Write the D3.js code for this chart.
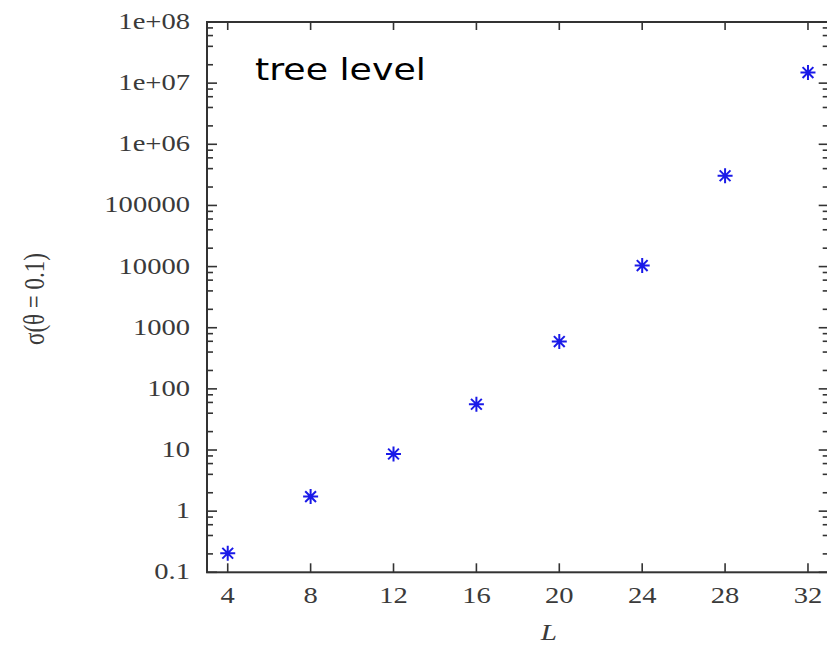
<!DOCTYPE html>
<html>
<head>
<meta charset="utf-8">
<script src="https://cdn.jsdelivr.net/npm/d3@7"></script>
<style>
  html, body { margin: 0; padding: 0; background: #fff; }
  svg { display: block; }
</style>
</head>
<body>
<svg id="chart" width="827" height="645"></svg>
<script>
// ---- data ----
const L = [4, 8, 12, 16, 20, 24, 28, 32];
const sigma = [0.205, 1.73, 8.6, 56, 594, 10400, 306000, 1.49e7];
const xTicks = [4, 8, 12, 16, 20, 24, 28, 32];
const yTicks = [0.1, 1, 10, 100, 1000, 10000, 100000, 1e6, 1e7, 1e8];
const yTickLabels = ["0.1", "1", "10", "100", "1000", "10000", "100000", "1e+06", "1e+07", "1e+08"];
const minorMultipliers = [2, 4, 6, 8];
const annotation = "tree level";
const xTitle = "L";
const yTitle = "σ(θ = 0.1)";

(function () {
const svg = d3.select("#chart");
const pLeft = 207, pRight = 828.7, pTop = 22, pBottom = 572.3;

const x = d3.scaleLinear().domain([3, 33]).range([pLeft, pRight]);
const y = d3.scaleLog().domain([0.1, 1e8]).range([pBottom, pTop]);

const axisColor = "#333";
const labelColor = "#3a3a3a";
const stretch = 1.27;

// frame
svg.append("rect")
  .attr("x", pLeft).attr("y", pTop)
  .attr("width", pRight - pLeft).attr("height", pBottom - pTop)
  .attr("fill", "none").attr("stroke", axisColor).attr("stroke-width", 2);

// minor y ticks
const minorVals = [];
yTicks.slice(0, -1).forEach(d => minorMultipliers.forEach(m => minorVals.push(d * m)));

const tickG = svg.append("g").attr("stroke", axisColor).attr("stroke-width", 1.6);
minorVals.forEach(v => {
  tickG.append("line").attr("x1", pLeft).attr("x2", pLeft + 6).attr("y1", y(v)).attr("y2", y(v));
  tickG.append("line").attr("x1", pRight).attr("x2", pRight - 6).attr("y1", y(v)).attr("y2", y(v));
});
yTicks.forEach(v => {
  tickG.append("line").attr("x1", pLeft).attr("x2", pLeft + 10).attr("y1", y(v)).attr("y2", y(v));
  tickG.append("line").attr("x1", pRight).attr("x2", pRight - 10).attr("y1", y(v)).attr("y2", y(v));
});
xTicks.forEach(v => {
  tickG.append("line").attr("x1", x(v)).attr("x2", x(v)).attr("y1", pBottom).attr("y2", pBottom - 9);
  tickG.append("line").attr("x1", x(v)).attr("x2", x(v)).attr("y1", pTop).attr("y2", pTop + 8);
});

// y tick labels
yTicks.forEach((v, i) => {
  svg.append("g").attr("transform", `translate(190,${y(v) + 7}) scale(${stretch},1)`)
    .append("text")
    .attr("text-anchor", "end")
    .attr("font-family", "Liberation Serif")
    .attr("font-size", 22.5)
    .attr("fill", labelColor)
    .text(yTickLabels[i]);
});

// x tick labels
xTicks.forEach(v => {
  svg.append("g").attr("transform", `translate(${x(v)},603) scale(${stretch},1)`)
    .append("text")
    .attr("text-anchor", "middle")
    .attr("font-family", "Liberation Serif")
    .attr("font-size", 22.5)
    .attr("fill", labelColor)
    .text(v);
});

// axis titles
svg.append("g").attr("transform", `translate(${x(19.5)},640) scale(${stretch},1)`)
  .append("text")
  .attr("text-anchor", "middle")
  .attr("font-family", "Liberation Serif")
  .attr("font-style", "italic")
  .attr("font-size", 23)
  .attr("fill", labelColor)
  .text(xTitle);

svg.append("g").attr("transform", `translate(44,299) rotate(-90) scale(1,${stretch})`)
  .append("text")
  .attr("text-anchor", "middle")
  .attr("font-family", "Liberation Serif")
  .attr("font-size", 23)
  .attr("fill", labelColor)
  .text(yTitle);

// annotation
svg.append("g").attr("transform", `translate(255,80) scale(1.19,1)`)
  .append("text")
  .attr("font-family", "DejaVu Sans")
  .attr("font-size", 30.5)
  .attr("fill", "#000")
  .text(annotation);

// markers (asterisk)
const r = 7.5;
const k = r * 0.72;
const star = `M${-r},0L${r},0M0,${-r}L0,${r}M${-k},${-k}L${k},${k}M${-k},${k}L${k},${-k}`;
svg.append("g").selectAll("path")
  .data(L.map((l, i) => ({ l, s: sigma[i] })))
  .join("path")
  .attr("transform", d => `translate(${x(d.l)},${y(d.s)})`)
  .attr("d", star)
  .attr("fill", "none")
  .attr("stroke", "#1a1ae8")
  .attr("stroke-width", 2);
})();
</script>
</body>
</html>
